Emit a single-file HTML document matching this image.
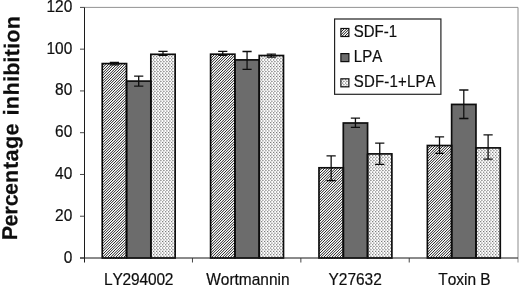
<!DOCTYPE html>
<html><head><meta charset="utf-8"><title>Percentage inhibition</title>
<style>
html,body{margin:0;padding:0;background:#fff;}
svg{display:block;}
text{font-family:"Liberation Sans",Arial,Helvetica,sans-serif;fill:#0c0c0c;font-kerning:none;stroke:#0c0c0c;stroke-width:0.18px;}
</style></head><body>
<svg width="520" height="287" viewBox="0 0 520 287">
<defs>
<filter id="soft" x="0" y="0" width="520" height="287" filterUnits="userSpaceOnUse"><feGaussianBlur stdDeviation="0.32"/></filter>
<pattern id="hatch" patternUnits="userSpaceOnUse" width="8" height="8">
<rect width="8" height="8" fill="#ffffff"/>
<path d="M4 0h1v1h-1zM3 1h1v1h-1zM2 2h1v1h-1zM1 3h1v1h-1zM0 4h1v1h-1zM7 5h1v1h-1zM6 6h1v1h-1zM5 7h1v1h-1z" fill="#282828" shape-rendering="crispEdges"/>
<path d="M1 0h1v1h-1zM7 0h1v1h-1zM0 1h1v1h-1zM6 1h1v1h-1zM5 2h1v1h-1zM7 2h1v1h-1zM4 3h1v1h-1zM6 3h1v1h-1zM3 4h1v1h-1zM5 4h1v1h-1zM2 5h1v1h-1zM4 5h1v1h-1zM1 6h1v1h-1zM3 6h1v1h-1zM0 7h1v1h-1zM2 7h1v1h-1z" fill="#545454" shape-rendering="crispEdges"/>
<path d="M2 0h1v1h-1zM6 0h1v1h-1zM1 1h1v1h-1zM5 1h1v1h-1zM0 2h1v1h-1zM4 2h1v1h-1zM3 3h1v1h-1zM7 3h1v1h-1zM2 4h1v1h-1zM6 4h1v1h-1zM1 5h1v1h-1zM5 5h1v1h-1zM0 6h1v1h-1zM4 6h1v1h-1zM3 7h1v1h-1zM7 7h1v1h-1z" fill="#bebebe" shape-rendering="crispEdges"/>
</pattern>
<pattern id="dots" patternUnits="userSpaceOnUse" width="6" height="33">
<rect width="6" height="33" fill="#ffffff"/>
<path d="M0 0h1v1h-1zM3 0h1v1h-1zM0 10h1v1h-1zM3 10h1v1h-1z" fill="#787878" shape-rendering="crispEdges"/>
<path d="M0 20h1v1h-1zM3 20h1v1h-1z" fill="#7f7f7f" shape-rendering="crispEdges"/>
<path d="M0 23h1v1h-1zM3 23h1v1h-1z" fill="#858585" shape-rendering="crispEdges"/>
<path d="M0 30h1v1h-1zM3 30h1v1h-1z" fill="#8c8c8c" shape-rendering="crispEdges"/>
<path d="M0 13h1v1h-1zM3 13h1v1h-1z" fill="#939393" shape-rendering="crispEdges"/>
<path d="M1 5h1v1h-1zM4 5h1v1h-1zM0 7h1v1h-1zM3 7h1v1h-1zM1 15h1v1h-1zM4 15h1v1h-1z" fill="#9a9a9a" shape-rendering="crispEdges"/>
<path d="M1 28h1v1h-1zM4 28h1v1h-1z" fill="#9f9f9f" shape-rendering="crispEdges"/>
<path d="M0 3h1v1h-1zM3 3h1v1h-1z" fill="#a0a0a0" shape-rendering="crispEdges"/>
<path d="M1 25h1v1h-1zM4 25h1v1h-1z" fill="#a4a4a4" shape-rendering="crispEdges"/>
<path d="M0 17h1v1h-1zM3 17h1v1h-1z" fill="#a7a7a7" shape-rendering="crispEdges"/>
<path d="M1 18h1v1h-1zM4 18h1v1h-1z" fill="#a9a9a9" shape-rendering="crispEdges"/>
<path d="M1 2h1v1h-1zM4 2h1v1h-1zM0 26h1v1h-1zM3 26h1v1h-1z" fill="#aeaeae" shape-rendering="crispEdges"/>
<path d="M1 8h1v1h-1zM4 8h1v1h-1z" fill="#b3b3b3" shape-rendering="crispEdges"/>
<path d="M2 5h1v1h-1zM5 5h1v1h-1zM2 15h1v1h-1zM5 15h1v1h-1zM0 27h1v1h-1zM3 27h1v1h-1z" fill="#b5b5b5" shape-rendering="crispEdges"/>
<path d="M1 12h1v1h-1zM4 12h1v1h-1zM2 28h1v1h-1zM5 28h1v1h-1z" fill="#b8b8b8" shape-rendering="crispEdges"/>
<path d="M0 16h1v1h-1zM3 16h1v1h-1zM2 25h1v1h-1zM5 25h1v1h-1z" fill="#bcbcbc" shape-rendering="crispEdges"/>
<path d="M1 31h1v1h-1zM4 31h1v1h-1z" fill="#bdbdbd" shape-rendering="crispEdges"/>
<path d="M2 18h1v1h-1zM5 18h1v1h-1z" fill="#c0c0c0" shape-rendering="crispEdges"/>
<path d="M0 4h1v1h-1zM3 4h1v1h-1zM1 22h1v1h-1zM4 22h1v1h-1z" fill="#c2c2c2" shape-rendering="crispEdges"/>
<path d="M2 2h1v1h-1zM5 2h1v1h-1z" fill="#c4c4c4" shape-rendering="crispEdges"/>
<path d="M2 8h1v1h-1zM5 8h1v1h-1zM1 21h1v1h-1zM4 21h1v1h-1z" fill="#c7c7c7" shape-rendering="crispEdges"/>
<path d="M0 6h1v1h-1zM3 6h1v1h-1z" fill="#c9c9c9" shape-rendering="crispEdges"/>
<path d="M2 12h1v1h-1zM5 12h1v1h-1z" fill="#cbcbcb" shape-rendering="crispEdges"/>
<path d="M1 32h1v1h-1zM4 32h1v1h-1z" fill="#cccccc" shape-rendering="crispEdges"/>
<path d="M1 11h1v1h-1zM4 11h1v1h-1zM2 31h1v1h-1zM5 31h1v1h-1z" fill="#cfcfcf" shape-rendering="crispEdges"/>
<path d="M0 14h1v1h-1zM3 14h1v1h-1z" fill="#d0d0d0" shape-rendering="crispEdges"/>
<path d="M1 9h1v1h-1zM4 9h1v1h-1zM2 22h1v1h-1zM5 22h1v1h-1z" fill="#d2d2d2" shape-rendering="crispEdges"/>
<path d="M1 1h1v1h-1zM4 1h1v1h-1z" fill="#d5d5d5" shape-rendering="crispEdges"/>
<path d="M1 0h1v1h-1zM1 10h1v1h-1zM2 21h1v1h-1zM5 21h1v1h-1zM0 29h1v1h-1zM3 29h1v1h-1z" fill="#d6d6d6" shape-rendering="crispEdges"/>
<path d="M4 0h1v1h-1zM4 10h1v1h-1z" fill="#d7d7d7" shape-rendering="crispEdges"/>
<path d="M1 19h1v1h-1zM4 19h1v1h-1zM1 20h1v1h-1zM4 20h1v1h-1z" fill="#d9d9d9" shape-rendering="crispEdges"/>
<path d="M2 32h1v1h-1zM5 32h1v1h-1z" fill="#dadada" shape-rendering="crispEdges"/>
<path d="M1 23h1v1h-1zM4 23h1v1h-1z" fill="#dbdbdb" shape-rendering="crispEdges"/>
<path d="M1 24h1v1h-1zM4 24h1v1h-1z" fill="#dcdcdc" shape-rendering="crispEdges"/>
<path d="M0 24h1v1h-1zM3 24h1v1h-1zM1 30h1v1h-1zM4 30h1v1h-1z" fill="#dddddd" shape-rendering="crispEdges"/>
<path d="M2 11h1v1h-1zM5 11h1v1h-1z" fill="#dedede" shape-rendering="crispEdges"/>
<path d="M1 13h1v1h-1zM4 13h1v1h-1zM1 29h1v1h-1zM4 29h1v1h-1z" fill="#dfdfdf" shape-rendering="crispEdges"/>
<path d="M1 7h1v1h-1zM4 7h1v1h-1zM2 9h1v1h-1zM5 9h1v1h-1z" fill="#e1e1e1" shape-rendering="crispEdges"/>
<path d="M1 14h1v1h-1zM4 14h1v1h-1z" fill="#e2e2e2" shape-rendering="crispEdges"/>
<path d="M1 3h1v1h-1zM4 3h1v1h-1z" fill="#e3e3e3" shape-rendering="crispEdges"/>
<path d="M0 19h1v1h-1zM3 19h1v1h-1z" fill="#e4e4e4" shape-rendering="crispEdges"/>
<path d="M2 1h1v1h-1zM5 1h1v1h-1zM1 6h1v1h-1zM4 6h1v1h-1zM1 17h1v1h-1zM4 17h1v1h-1z" fill="#e5e5e5" shape-rendering="crispEdges"/>
<path d="M1 26h1v1h-1zM4 26h1v1h-1z" fill="#e7e7e7" shape-rendering="crispEdges"/>
<path d="M1 4h1v1h-1zM4 4h1v1h-1z" fill="#e8e8e8" shape-rendering="crispEdges"/>
<path d="M2 19h1v1h-1zM5 19h1v1h-1zM1 27h1v1h-1zM4 27h1v1h-1z" fill="#e9e9e9" shape-rendering="crispEdges"/>
<path d="M0 1h1v1h-1zM3 1h1v1h-1zM1 16h1v1h-1zM4 16h1v1h-1z" fill="#ebebeb" shape-rendering="crispEdges"/>
<path d="M2 24h1v1h-1zM5 24h1v1h-1z" fill="#ececec" shape-rendering="crispEdges"/>
<path d="M2 29h1v1h-1zM5 29h1v1h-1z" fill="#f0f0f0" shape-rendering="crispEdges"/>
<path d="M0 9h1v1h-1zM3 9h1v1h-1z" fill="#f1f1f1" shape-rendering="crispEdges"/>
<path d="M2 14h1v1h-1zM5 14h1v1h-1z" fill="#f4f4f4" shape-rendering="crispEdges"/>
<path d="M2 6h1v1h-1zM5 6h1v1h-1zM0 11h1v1h-1zM3 11h1v1h-1z" fill="#f8f8f8" shape-rendering="crispEdges"/>
<path d="M2 4h1v1h-1zM5 4h1v1h-1z" fill="#fbfbfb" shape-rendering="crispEdges"/>
</pattern>
</defs>
<rect width="520" height="287" fill="#fff"/>

<g>
<rect x="102.24" y="63.60" width="24.30" height="194.40" fill="url(#hatch)"/>
<rect x="126.54" y="81.10" width="24.30" height="176.90" fill="#6c6c6c"/>
<rect x="150.84" y="54.30" width="24.30" height="203.70" fill="url(#dots)"/>
<rect x="210.61" y="54.20" width="24.30" height="203.80" fill="url(#hatch)"/>
<rect x="234.91" y="59.90" width="24.30" height="198.10" fill="#6c6c6c"/>
<rect x="259.21" y="55.50" width="24.30" height="202.50" fill="url(#dots)"/>
<rect x="318.99" y="167.80" width="24.30" height="90.20" fill="url(#hatch)"/>
<rect x="343.29" y="123.00" width="24.30" height="135.00" fill="#6c6c6c"/>
<rect x="367.59" y="153.90" width="24.30" height="104.10" fill="url(#dots)"/>
<rect x="427.36" y="145.50" width="24.30" height="112.50" fill="url(#hatch)"/>
<rect x="451.66" y="104.40" width="24.30" height="153.60" fill="#6c6c6c"/>
<rect x="475.96" y="147.90" width="24.30" height="110.10" fill="url(#dots)"/>
<rect x="334.6" y="19" width="106.3" height="75.3" fill="#fff"/>
<rect x="340.9" y="28.50" width="8.0" height="8.0" fill="url(#hatch)"/>
<rect x="340.9" y="53.60" width="8.0" height="8.0" fill="#6c6c6c"/>
<rect x="340.9" y="78.80" width="8.0" height="8.0" fill="url(#dots)"/>
</g>
<g filter="url(#soft)">
<path d="M84.5 7.4 H518.0" fill="none" stroke="#6e6e6e" stroke-width="0.75"/>
<path d="M518.0 7.4 V262.5" fill="none" stroke="#8c8c8c" stroke-width="1"/>
<rect x="102.24" y="63.60" width="24.30" height="194.40" fill="none" stroke="#111" stroke-width="1.7"/>
<rect x="126.54" y="81.10" width="24.30" height="176.90" fill="none" stroke="#111" stroke-width="1.7"/>
<rect x="150.84" y="54.30" width="24.30" height="203.70" fill="none" stroke="#111" stroke-width="1.7"/>
<rect x="210.61" y="54.20" width="24.30" height="203.80" fill="none" stroke="#111" stroke-width="1.7"/>
<rect x="234.91" y="59.90" width="24.30" height="198.10" fill="none" stroke="#111" stroke-width="1.7"/>
<rect x="259.21" y="55.50" width="24.30" height="202.50" fill="none" stroke="#111" stroke-width="1.7"/>
<rect x="318.99" y="167.80" width="24.30" height="90.20" fill="none" stroke="#111" stroke-width="1.7"/>
<rect x="343.29" y="123.00" width="24.30" height="135.00" fill="none" stroke="#111" stroke-width="1.7"/>
<rect x="367.59" y="153.90" width="24.30" height="104.10" fill="none" stroke="#111" stroke-width="1.7"/>
<rect x="427.36" y="145.50" width="24.30" height="112.50" fill="none" stroke="#111" stroke-width="1.7"/>
<rect x="451.66" y="104.40" width="24.30" height="153.60" fill="none" stroke="#111" stroke-width="1.7"/>
<rect x="475.96" y="147.90" width="24.30" height="110.10" fill="none" stroke="#111" stroke-width="1.7"/>
<path d="M114.39 62.50 V64.90 M109.79 62.50 H118.99 M109.79 64.90 H118.99" fill="none" stroke="#111" stroke-width="1.3"/>
<path d="M138.69 76.20 V86.20 M134.09 76.20 H143.29 M134.09 86.20 H143.29" fill="none" stroke="#111" stroke-width="1.3"/>
<path d="M162.99 51.40 V55.30 M158.39 51.40 H167.59 M158.39 55.30 H167.59" fill="none" stroke="#111" stroke-width="1.3"/>
<path d="M222.76 51.40 V55.40 M218.16 51.40 H227.36 M218.16 55.40 H227.36" fill="none" stroke="#111" stroke-width="1.3"/>
<path d="M247.06 51.50 V69.40 M242.46 51.50 H251.66 M242.46 69.40 H251.66" fill="none" stroke="#111" stroke-width="1.3"/>
<path d="M271.36 54.20 V57.20 M266.76 54.20 H275.96 M266.76 57.20 H275.96" fill="none" stroke="#111" stroke-width="1.3"/>
<path d="M331.14 155.90 V180.70 M326.54 155.90 H335.74 M326.54 180.70 H335.74" fill="none" stroke="#111" stroke-width="1.3"/>
<path d="M355.44 118.20 V127.30 M350.84 118.20 H360.04 M350.84 127.30 H360.04" fill="none" stroke="#111" stroke-width="1.3"/>
<path d="M379.74 143.10 V164.40 M375.14 143.10 H384.34 M375.14 164.40 H384.34" fill="none" stroke="#111" stroke-width="1.3"/>
<path d="M439.51 136.90 V153.30 M434.91 136.90 H444.11 M434.91 153.30 H444.11" fill="none" stroke="#111" stroke-width="1.3"/>
<path d="M463.81 90.00 V118.50 M459.21 90.00 H468.41 M459.21 118.50 H468.41" fill="none" stroke="#111" stroke-width="1.3"/>
<path d="M488.11 134.80 V159.20 M483.51 134.80 H492.71 M483.51 159.20 H492.71" fill="none" stroke="#111" stroke-width="1.3"/>
<path d="M84.5 7.4 V262.5" fill="none" stroke="#1c1c1c" stroke-width="1"/>
<path d="M80.0 258.0 H518.0" fill="none" stroke="#1c1c1c" stroke-width="1"/>
<path d="M80.0 258.00 H84.5" stroke="#333" stroke-width="0.9"/>
<text transform="translate(72.3,262.50) scale(0.98,1)" font-size="15.8" text-anchor="end">0</text>
<path d="M80.0 216.23 H84.5" stroke="#333" stroke-width="0.9"/>
<text transform="translate(72.3,220.73) scale(0.98,1)" font-size="15.8" text-anchor="end">20</text>
<path d="M80.0 174.47 H84.5" stroke="#333" stroke-width="0.9"/>
<text transform="translate(72.3,178.97) scale(0.98,1)" font-size="15.8" text-anchor="end">40</text>
<path d="M80.0 132.70 H84.5" stroke="#333" stroke-width="0.9"/>
<text transform="translate(72.3,137.20) scale(0.98,1)" font-size="15.8" text-anchor="end">60</text>
<path d="M80.0 90.93 H84.5" stroke="#333" stroke-width="0.9"/>
<text transform="translate(72.3,95.43) scale(0.98,1)" font-size="15.8" text-anchor="end">80</text>
<path d="M80.0 49.17 H84.5" stroke="#333" stroke-width="0.9"/>
<text transform="translate(72.3,53.67) scale(0.98,1)" font-size="15.8" text-anchor="end">100</text>
<path d="M80.0 7.40 H84.5" stroke="#333" stroke-width="0.9"/>
<text transform="translate(72.3,11.90) scale(0.98,1)" font-size="15.8" text-anchor="end">120</text>
<path d="M192.47 258.0 V262.5" stroke="#333" stroke-width="0.9"/>
<path d="M300.85 258.0 V262.5" stroke="#333" stroke-width="0.9"/>
<path d="M409.23 258.0 V262.5" stroke="#333" stroke-width="0.9"/>
<text transform="translate(138.69,285.0) scale(0.98,1)" font-size="15.8" text-anchor="middle" textLength="71.0" lengthAdjust="spacing">LY294002</text>
<text transform="translate(247.86,285.0) scale(0.98,1)" font-size="15.8" text-anchor="middle">Wortmannin</text>
<text transform="translate(355.14,285.0) scale(0.98,1)" font-size="15.8" text-anchor="middle">Y27632</text>
<text transform="translate(464.41,285.0) scale(0.98,1)" font-size="15.8" text-anchor="middle">Toxin B</text>
<rect x="334.6" y="19" width="106.3" height="75.3" fill="none" stroke="#222" stroke-width="1.2"/>
<rect x="340.9" y="28.50" width="8.0" height="8.0" fill="none" stroke="#111" stroke-width="1.2"/>
<text transform="translate(353.8,36.90) scale(0.955,1)" font-size="15.7">SDF-1</text>
<rect x="340.9" y="53.60" width="8.0" height="8.0" fill="none" stroke="#111" stroke-width="1.2"/>
<text transform="translate(353.8,62.00) scale(0.955,1)" font-size="15.7">LPA</text>
<rect x="340.9" y="78.80" width="8.0" height="8.0" fill="none" stroke="#111" stroke-width="1.2"/>
<text transform="translate(353.8,87.20) scale(0.955,1)" font-size="15.7" textLength="85.6" lengthAdjust="spacing">SDF-1+LPA</text>
<text transform="translate(17.1,239.8) rotate(-89.375)" x="-0.50 13.33 25.18 33.64 44.79 56.75 70.77 78.43 90.88 104.41 117.36 124.33 130.60 144.42 157.75 164.02 177.14 183.41 190.87 197.13 210.56" font-size="21.5" font-weight="bold" stroke="#0c0c0c" stroke-width="0.35">Percentage inhibition</text>
</g>
</svg>
</body></html>
